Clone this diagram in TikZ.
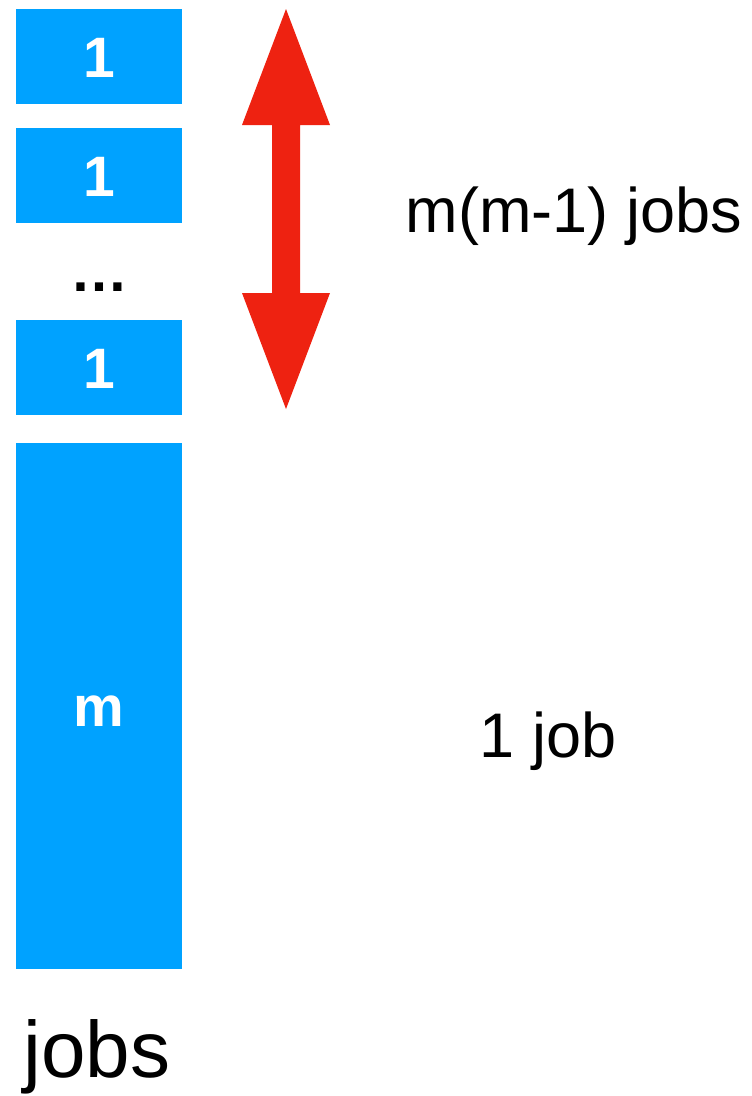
\documentclass[tikz,border=0pt]{standalone}
\usepackage{fontspec}
\setmainfont{Liberation Sans}
\definecolor{jobblue}{HTML}{00A2FF}
\definecolor{arrowred}{HTML}{EE2211}
\begin{document}
\begin{tikzpicture}[x=1pt,y=-1pt,
  jobbox/.style={fill=jobblue,draw=none,minimum width=166pt,inner sep=0pt,text=white,
    font=\fontsize{57}{62}\selectfont\bfseries,text height=41pt,text depth=0pt},
  lbl/.style={text=black,inner sep=0pt,font=\fontsize{63}{70}\selectfont}]
\useasboundingbox (0,0) rectangle (752,1096);
\node[jobbox,minimum height=95pt] (b1) at (99,56.5) {1};
\node[jobbox,minimum height=95pt] (b2) at (99,175.5) {1};
\node[lbl,font=\fontsize{58}{64}\selectfont\bfseries,anchor=base] (dots) at (99,291) {…};
\node[jobbox,minimum height=95pt] (b3) at (99,367.5) {1};
\node[jobbox,minimum height=526pt] (bm) at (99,706) {m};
\node[lbl] (t1) at (574,216) {m(m-1) jobs};
\node[lbl] (t2) at (548,741) {1 job};
\node[lbl,font=\fontsize{80}{88}\selectfont] (t3) at (97,1057) {jobs};
\fill[arrowred] (286,9) -- (330,125) -- (300,125) -- (300,293) -- (330,293) -- (286,409)
  -- (242,293) -- (272,293) -- (272,125) -- (242,125) -- cycle;
\end{tikzpicture}
\end{document}
